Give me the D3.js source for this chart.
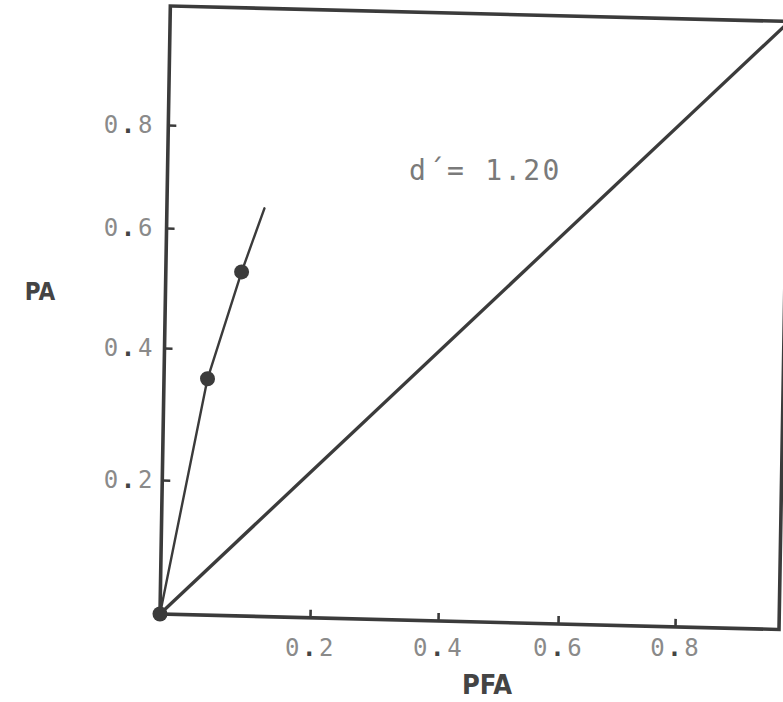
<!DOCTYPE html>
<html>
<head>
<meta charset="utf-8">
<script src="https://cdn.jsdelivr.net/npm/d3@7"></script>
<style>
  body { margin: 0; background: #fff; }
  svg { display: block; }
</style>
</head>
<body>
<svg id="chart" width="783" height="702"></svg>
<script>
// ROC operating characteristic, d' = 1.20
const tickValues = [0.2, 0.4, 0.6, 0.8];
const scaleStops = [0, 0.2, 0.4, 0.6, 0.8, 1];
const rocPFA = [0, 0.058, 0.101, 0.130];
const rocPA  = [0, 0.355, 0.530, 0.643];
const markedPFA = [0, 0.058, 0.101];
const markedPA  = [0, 0.355, 0.530];
const chancePFA = [0, 1];
const chancePA  = [0, 1];
const dPrime = 1.20;
const titleX = "PFA";
const titleY = "PA";

const ink = "#3b3b3b";
const labelInk = "#8a8a8a";

const svg = d3.select("#chart");

// Plot frame origin and the slight skew of the drawn axes
const ox = 160, oy = 614;
const ky = 0.025;   // horizontal lines drop slightly to the right
const kx = -0.017;  // vertical lines lean slightly to the right

// Axis calibration (tick spacing on this plot is uneven)
const x = d3.scaleLinear().domain(scaleStops).range([0, 150, 278, 398, 515, 619]);
const y = d3.scaleLinear().domain(scaleStops).range([0, -134, -266, -386, -489, -608]);

const g = svg.append("g")
  .attr("transform", `matrix(1,${ky},${kx},1,${ox},${oy})`);

const unskew = `matrix(1,${-ky},${-kx},1,0,0)`;

// Frame
g.append("path")
  .attr("d", `M0,0 L0,${y(1)} L${x(1)},${y(1)} L${x(1)},0 Z`)
  .attr("fill", "none")
  .attr("stroke", ink)
  .attr("stroke-width", 3.6)
  .attr("stroke-linejoin", "miter");

// Tick label: digits in light grey, decimal point as a heavy dot
function styleTickText(sel) {
  sel.each(function (d) {
    const s = d3.format(".1f")(d);
    const t = d3.select(this).text(null)
      .attr("font-family", "DejaVu Sans Mono, monospace")
      .attr("font-size", 24)
      .attr("letter-spacing", 2.6)
      .attr("fill", labelInk);
    t.append("tspan").text(s.slice(0, 1));
    t.append("tspan").text(".").attr("fill", "#444").attr("font-weight", "bold");
    t.append("tspan").text(s.slice(2));
  });
}

// X axis
const gx = g.append("g")
  .call(d3.axisBottom(x).tickValues(tickValues).tickSizeInner(-8).tickSizeOuter(0).tickPadding(25));
gx.select(".domain").remove();
gx.selectAll(".tick line").attr("stroke", ink).attr("stroke-width", 2.6);
gx.selectAll(".tick text")
  .call(styleTickText)
  .attr("transform", d => `translate(0,${-ky * x(d)}) ${unskew}`);

// Y axis
const gy = g.append("g")
  .call(d3.axisLeft(y).tickValues(tickValues).tickSizeInner(-8).tickSizeOuter(0).tickPadding(5));
gy.select(".domain").remove();
gy.selectAll(".tick line").attr("stroke", ink).attr("stroke-width", 2.6);
gy.selectAll(".tick text")
  .call(styleTickText)
  .attr("transform", d => `translate(${-kx * y(d)},0) ${unskew}`);

// Chance diagonal
const chance = chancePFA.map((v, i) => [v, chancePA[i]]);
g.append("path")
  .datum(chance)
  .attr("d", d3.line().x(d => x(d[0])).y(d => y(d[1])))
  .attr("fill", "none")
  .attr("stroke", ink)
  .attr("stroke-width", 3.3);

// ROC curve
const roc = rocPFA.map((v, i) => [v, rocPA[i]]);
g.append("path")
  .datum(roc)
  .attr("d", d3.line().x(d => x(d[0])).y(d => y(d[1])))
  .attr("fill", "none")
  .attr("stroke", ink)
  .attr("stroke-width", 2.4)
  .attr("stroke-linecap", "round")
  .attr("stroke-linejoin", "round");

// Observed points
const marked = markedPFA.map((v, i) => [v, markedPA[i]]);
g.selectAll("circle.pt")
  .data(marked)
  .join("circle")
  .attr("class", "pt")
  .attr("cx", d => x(d[0]))
  .attr("cy", d => y(d[1]))
  .attr("r", 7.5)
  .attr("fill", ink);

// Annotation
svg.append("text")
  .attr("x", 409)
  .attr("y", 180)
  .attr("font-family", "DejaVu Sans Mono, monospace")
  .attr("font-size", 28)
  .attr("letter-spacing", 2.2)
  .attr("fill", "#7a7a7a")
  .text(`d´= ${dPrime.toFixed(2)}`);

// Axis titles
svg.append("text")
  .attr("x", 487)
  .attr("y", 694)
  .attr("text-anchor", "middle")
  .attr("font-family", "DejaVu Sans Condensed, DejaVu Sans, sans-serif")
  .attr("font-weight", "bold")
  .attr("font-size", 27)
  .attr("fill", "#444")
  .text(titleX);

svg.append("text")
  .attr("x", 40)
  .attr("y", 300)
  .attr("text-anchor", "middle")
  .attr("font-family", "DejaVu Sans Condensed, DejaVu Sans, sans-serif")
  .attr("font-weight", "bold")
  .attr("font-size", 24)
  .attr("fill", "#444")
  .text(titleY);
</script>
</body>
</html>
